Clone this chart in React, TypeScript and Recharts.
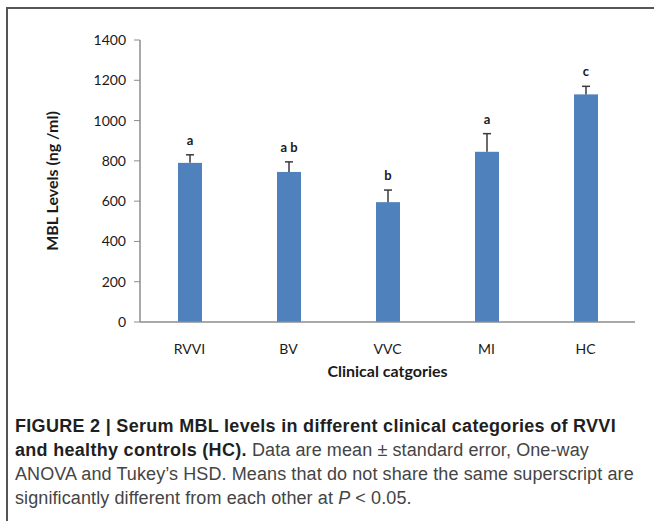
import { BarChart, Bar, XAxis, YAxis, LabelList, Label } from 'recharts';

const categories = ['RVVI', 'BV', 'VVC', 'MI', 'HC'];
const meanValues = [790, 745, 595, 845, 1130];
const stdErrors = [40, 50, 60, 90, 40];
const superscripts = ['a', 'a b', 'b', 'a', 'c'];
const yTicks = [0, 200, 400, 600, 800, 1000, 1200, 1400];

const chartData = categories.map((name, i) => ({
    name,
    mbl: meanValues[i],
    err: stdErrors[i],
    sup: superscripts[i],
}));

const axisFont = 'Lato, "Open Sans", sans-serif';

// bar + upper error whisker (Excel style "plus" only)
function BarWithError(props: any) {
    const { x, y, width, height, fill, payload } = props;
    const errPx = (payload.err * height) / payload.mbl;
    const cx = x + width / 2;
    return (
        <g>
            <rect x={x} y={y} width={width} height={height} fill={fill} />
            <line x1={cx} x2={cx} y1={y} y2={y - errPx} stroke="#3a3a3a" strokeWidth={1.5} />
            <line x1={cx - 4} x2={cx + 4} y1={y - errPx} y2={y - errPx} stroke="#3a3a3a" strokeWidth={1.5} />
        </g>
    );
}

// letter above the error bar cap
function SuperscriptLabel(props: any) {
    const { x, y, width, height, index } = props;
    const perUnit = height / meanValues[index];
    const capY = y - stdErrors[index] * perUnit;
    return (
        <text
            x={x + width / 2}
            y={capY - 10}
            textAnchor="middle"
            fontFamily={axisFont}
            fontWeight={700}
            fontSize={13}
            fill="#1a1a1a"
        >
            {superscripts[index]}
        </text>
    );
}

export default function App() {
    const boldPart = { fontWeight: 700, color: '#1f1f1f', letterSpacing: 0.3 };
    return (
        <div style={{ position: 'absolute', left: 0, top: 0, width: 654, height: 521, background: '#fff', overflow: 'hidden' }}>
            {/* frame */}
            <div
                style={{
                    position: 'absolute',
                    left: 6,
                    top: 7,
                    width: 660,
                    height: 530,
                    borderTop: '2px solid #555',
                    borderLeft: '2px solid #555',
                }}
            />

            <div style={{ position: 'absolute', left: 0, top: 0 }}>
                <BarChart width={654} height={400} data={chartData} margin={{ top: 40, right: 19, left: 40, bottom: 20 }}>
                    <XAxis
                        dataKey="name"
                        axisLine={{ stroke: '#8c8c8c', strokeWidth: 1.5 }}
                        tickLine={false}
                        tickSize={0}
                        tickMargin={22}
                        height={58}
                        tick={{ fill: '#1a1a1a', fontSize: 14, fontFamily: axisFont }}
                    >
                        <Label
                            value="Clinical catgories"
                            position="insideBottom"
                            offset={3}
                            style={{ fill: '#1a1a1a', fontSize: 16, fontWeight: 700, fontFamily: axisFont }}
                        />
                    </XAxis>
                    <YAxis
                        domain={[0, 1400]}
                        ticks={yTicks}
                        width={100}
                        axisLine={{ stroke: '#8c8c8c', strokeWidth: 1.5 }}
                        tickLine={{ stroke: '#8c8c8c' }}
                        tickSize={6}
                        tickMargin={8}
                        tick={{ fill: '#1a1a1a', fontSize: 14, fontFamily: axisFont }}
                    >
                        <Label
                            value="MBL Levels (ng /ml)"
                            angle={-90}
                            position="insideLeft"
                            offset={12}
                            style={{ fill: '#1a1a1a', fontSize: 16, fontWeight: 700, fontFamily: axisFont, textAnchor: 'middle' }}
                        />
                    </YAxis>
                    <Bar dataKey="mbl" fill="#4F81BD" barSize={24} shape={<BarWithError />} isAnimationActive={false}>
                        <LabelList dataKey="sup" content={<SuperscriptLabel />} />
                    </Bar>
                </BarChart>
            </div>

            {/* caption */}
            <div
                style={{
                    position: 'absolute',
                    left: 15,
                    top: 414,
                    fontFamily: '"Liberation Sans", Arial, sans-serif',
                    fontSize: 18,
                    lineHeight: '24px',
                    color: '#444',
                    letterSpacing: 0.1,
                    whiteSpace: 'nowrap',
                }}
            >
                <div style={boldPart}>FIGURE 2 | Serum MBL levels in different clinical categories of RVVI</div>
                <div>
                    <span style={boldPart}>and healthy controls (HC).</span> Data are mean ± standard error, One-way
                </div>
                <div>ANOVA and Tukey’s HSD. Means that do not share the same superscript are</div>
                <div>
                    significantly different from each other at <i>P</i> &lt; 0.05.
                </div>
            </div>
        </div>
    );
}
